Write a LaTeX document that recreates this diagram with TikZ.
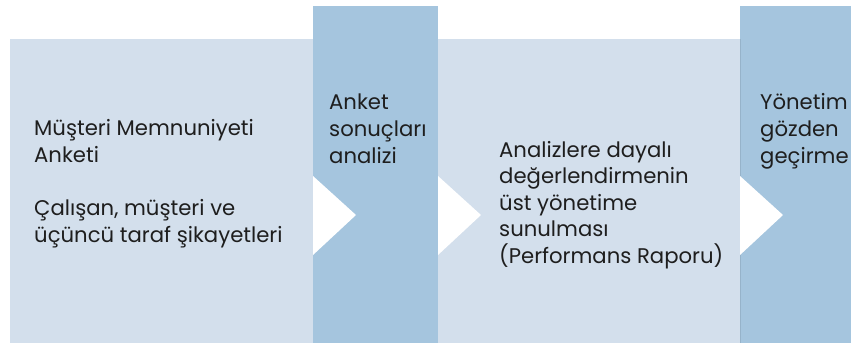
\documentclass[tikz,border=0pt]{standalone}
\usepackage{fontspec}
\setmainfont{Poppins}
\definecolor{lightbox}{HTML}{D3DFEC}
\definecolor{darkbox}{HTML}{A5C5DE}
\definecolor{txt}{HTML}{1E1E1E}
\begin{document}
\begin{tikzpicture}[x=1pt,y=-1pt,
  lbl/.style={anchor=base west,inner sep=0pt,align=left,text=txt,
    font=\fontsize{21.2}{26.7}\selectfont},
  chev/.style={fill=white,draw=none}]
\useasboundingbox (0,0) rectangle (851,343);
% boxes
\fill[lightbox] (10,39) rectangle (313,343);
\fill[darkbox] (313,6) rectangle (438,343);
\fill[lightbox] (438,39) rectangle (740,343);
\fill[darkbox] (740,6) rectangle (851,343);
\draw[darkbox!85!black!60!darkbox,line width=0.6pt] (740.3,39) -- (740.3,343);
% chevrons
\fill[chev] (313,176) -- (356,215) -- (313,255) -- cycle;
\fill[chev] (438,176) -- (481,215) -- (438,255) -- cycle;
\fill[chev] (740,176) -- (783,215) -- (740,255) -- cycle;
% texts
\node[lbl] (t1a) at (34,135.5) {Müşteri Memnuniyeti};
\node[lbl] (t1b) at (34,162) {Anketi};
\node[lbl] (t1c) at (34,215) {Çalışan, müşteri ve};
\node[lbl] (t1d) at (34,242) {üçüncü taraf şikayetleri};
\node[lbl] (t2a) at (329,109) {Anket};
\node[lbl] (t2b) at (329,136) {sonuçları};
\node[lbl] (t2c) at (329,163) {analizi};
\node[lbl] (t3a) at (499,157) {Analizlere dayalı};
\node[lbl] (t3b) at (499,183.5) {değerlendirmenin};
\node[lbl] (t3c) at (499,210) {üst yönetime};
\node[lbl] (t3d) at (499,236.5) {sunulması};
\node[lbl] (t3e) at (499,263) {(Performans Raporu)};
\node[lbl] (t4a) at (760,109) {Yönetim};
\node[lbl] (t4b) at (760,136) {gözden};
\node[lbl] (t4c) at (760,163) {geçirme};
\end{tikzpicture}
\end{document}
